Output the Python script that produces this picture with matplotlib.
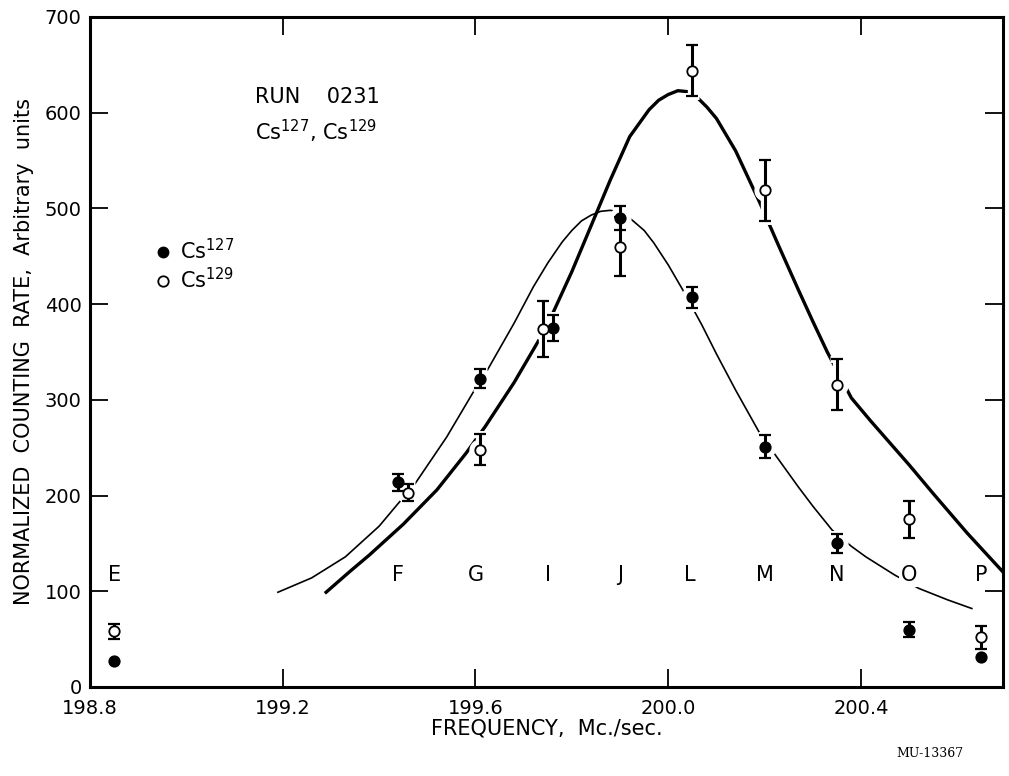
import matplotlib
matplotlib.use("Agg")
import matplotlib.pyplot as plt
import numpy as np
from matplotlib.lines import Line2D

# measured points (filled = Cs127, open = Cs129)
x127 = [198.85, 199.44, 199.61, 199.76, 199.90, 200.05, 200.20, 200.35, 200.50, 200.65]
y127 = [27, 214, 322, 375, 490, 407, 251, 150, 60, 31]
e127 = [0, 9, 10, 14, 13, 11, 12, 10, 8, 0]

x129 = [198.85, 199.46, 199.61, 199.74, 199.90, 200.05, 200.20, 200.35, 200.50, 200.65]
y129 = [58, 203, 248, 374, 460, 644, 519, 316, 175, 52]
e129 = [8, 9, 16, 29, 31, 27, 32, 27, 19, 12]

# hand-drawn resonance curves
fit127_x = [199.19, 199.26, 199.33, 199.40, 199.44, 199.47, 199.54, 199.60, 199.62,
            199.68, 199.72, 199.75, 199.78, 199.80, 199.82, 199.84, 199.86, 199.88,
            199.90, 199.92, 199.95, 199.97, 200.00, 200.03, 200.07, 200.10, 200.14,
            200.19, 200.22, 200.27, 200.30, 200.34, 200.38, 200.41, 200.47, 200.52,
            200.58, 200.63]
fit127_y = [99, 114, 136, 168, 192, 209, 261, 312, 327,
            380, 418, 443, 465, 477, 487, 493, 497, 498,
            496, 490, 477, 464, 441, 415, 378, 348, 310,
            265, 244, 209, 189, 164, 147, 136, 117, 103,
            91, 82]

fit129_x = [199.29, 199.34, 199.38, 199.45, 199.52, 199.58, 199.62, 199.68, 199.73,
            199.76, 199.80, 199.84, 199.88, 199.92, 199.96, 199.98, 200.00, 200.02,
            200.04, 200.06, 200.08, 200.10, 200.14, 200.19, 200.23, 200.27, 200.30,
            200.33, 200.38, 200.42, 200.46, 200.50, 200.55, 200.62, 200.695]
fit129_y = [99, 121, 138, 170, 206, 244, 272, 318, 361,
            390, 434, 482, 530, 575, 603, 613, 619, 623,
            622, 616, 606, 594, 560, 506, 460, 415, 382,
            350, 302, 278, 255, 232, 202, 161, 120]

point_labels = ["E", "F", "G", "I", "J", "L", "M", "N", "O", "P"]
label_x = [198.85, 199.44, 199.60, 199.75, 199.90, 200.045, 200.20, 200.35, 200.50, 200.65]

x_ticks = [198.8, 199.2, 199.6, 200.0, 200.4]
y_ticks = [0, 100, 200, 300, 400, 500, 600, 700]

fig = plt.figure(figsize=(10.09, 7.76), dpi=100)
ax = fig.add_axes([0.0892, 0.1147, 0.905, 0.8634])

ax.plot(fit127_x, fit127_y, color="black", lw=1.2, zorder=1)
ax.plot(fit129_x, fit129_y, color="black", lw=2.4, zorder=1)


def draw_points(xs, ys, errs, face):
    xs, ys, errs = np.array(xs), np.array(ys), np.array(errs)
    has_err = errs > 0
    # white halos so the curves break around the points
    ax.plot(xs, ys, "o", ms=15, color="white", zorder=2)
    ax.errorbar(xs[has_err], ys[has_err], yerr=errs[has_err], fmt="none",
                ecolor="white", elinewidth=6, capsize=5, capthick=5, zorder=2)
    ax.errorbar(xs[has_err], ys[has_err], yerr=errs[has_err], fmt="none",
                ecolor="black", elinewidth=2.2, capsize=4.5, capthick=1.6, zorder=3)
    ax.plot(xs, ys, "o", ms=7.5, mfc=face, mec="black", mew=1.3, zorder=4)


draw_points(x127, y127, e127, "black")
draw_points(x129, y129, e129, "white")

for lab, lx in zip(point_labels, label_x):
    ax.text(lx, 117, lab, fontsize=15, ha="center", va="center", zorder=2,
            bbox=dict(fc="white", ec="none", pad=1.5))

ax.set_xlim(198.8, 200.695)
ax.set_ylim(0, 700)
ax.set_xticks(x_ticks)
ax.set_xticklabels([f"{t:.1f}" for t in x_ticks])
ax.set_yticks(y_ticks)
ax.tick_params(direction="in", length=13, width=1.3, labelsize=14,
               top=True, right=True, pad=6)
ax.tick_params(axis="x", pad=9)
for sp in ax.spines.values():
    sp.set_linewidth(2.2)

ax.set_xlabel("FREQUENCY,  Mc./sec.", fontsize=15, labelpad=0)
ax.set_ylabel("NORMALIZED  COUNTING  RATE,  Arbitrary  units", fontsize=15, labelpad=8)

ax.text(0.181, 0.872, "RUN    0231", transform=ax.transAxes, fontsize=15, va="baseline")
ax.text(0.181, 0.816, "Cs$^{127}$, Cs$^{129}$", transform=ax.transAxes, fontsize=15,
        va="baseline")

handles = [
    Line2D([], [], ls="none", marker="o", ms=7.5, mfc="black", mec="black"),
    Line2D([], [], ls="none", marker="o", ms=7.5, mfc="white", mec="black", mew=1.3),
]
ax.legend(handles, ["Cs$^{127}$", "Cs$^{129}$"], loc="upper left",
          bbox_to_anchor=(0.062, 0.685), frameon=False, fontsize=15,
          handlelength=0.6, handletextpad=0.5, labelspacing=0.15, borderpad=0)

fig.text(0.922, 0.0245, "MU-13367", family="DejaVu Serif", fontsize=9, ha="center")

fig.savefig("out.png", dpi=100)
